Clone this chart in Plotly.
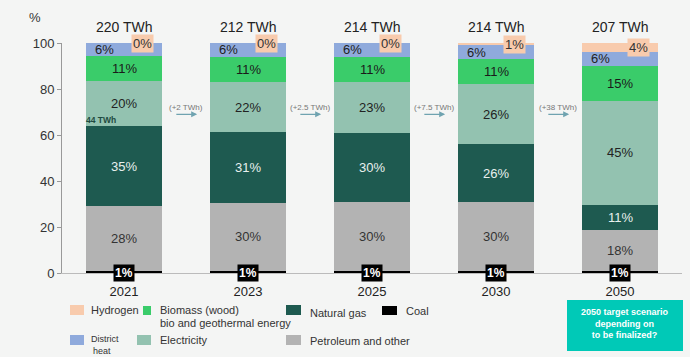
import plotly.graph_objects as go

years = ["2021", "2023", "2025", "2030", "2050"]
totals = ["220 TWh", "212 TWh", "214 TWh", "214 TWh", "207 TWh"]

coal = [1.0, 1.0, 1.0, 1.0, 1.0]
petroleum = [28.1, 29.6, 29.7, 29.7, 17.7]
natural_gas = [34.7, 30.7, 30.0, 25.3, 10.9]
electricity = [19.7, 21.7, 22.5, 26.0, 45.3]
biomass = [10.8, 11.0, 10.8, 11.0, 15.0]
district_heat = [5.7, 6.0, 6.0, 6.1, 6.3]
hydrogen = [0.0, 0.0, 0.0, 0.9, 3.8]

coal_lbl = ["1%"] * 5
petroleum_lbl = ["28%", "30%", "30%", "30%", "18%"]
gas_lbl = ["35%", "31%", "30%", "26%", "11%"]
elec_lbl = ["20%", "22%", "23%", "26%", "45%"]
bio_lbl = ["11%", "11%", "11%", "11%", "15%"]
dh_lbl = ["6%", "6%", "6%", "6%", "6%"]
h2_lbl = ["0%", "0%", "0%", "1%", "4%"]

steps = ["(+2 TWh)", "(+2.5 TWh)", "(+7.5 TWh)", "(+38 TWh)"]

C_H2 = "#F8CBAD"
C_BIO = "#3ACC6A"
C_GAS = "#1E5A50"
C_COAL = "#000000"
C_DH = "#8FAADC"
C_ELEC = "#93C2B0"
C_PET = "#B3B3B3"
BG = "#F4F5F4"
FONT = "Liberation Sans, Arial, sans-serif"
LFONT = "Liberation Sans, Arial, sans-serif"

series = [
    ("Coal", coal, C_COAL),
    ("Petroleum and other", petroleum, C_PET),
    ("Natural gas", natural_gas, C_GAS),
    ("Electricity", electricity, C_ELEC),
    ("Biomass", biomass, C_BIO),
    ("District heat", district_heat, C_DH),
    ("Hydrogen", hydrogen, C_H2),
]

x = list(range(len(years)))
fig = go.Figure()
for name, vals, col in series:
    fig.add_trace(go.Bar(x=x, y=vals, name=name, marker=dict(color=col, line=dict(width=0)),
                         width=0.62, showlegend=False, hoverinfo="skip"))

ann = []
cum = [[0.0] * 5]
for _, vals, _ in series:
    cum.append([c + v for c, v in zip(cum[-1], vals)])

def mid(k, i):
    return (cum[k][i] + cum[k + 1][i]) / 2

for i in x:
    ann.append(dict(x=i, y=mid(1, i), text=petroleum_lbl[i], showarrow=False,
                    font=dict(size=13, color="#333333", family=FONT)))
    ann.append(dict(x=i, y=mid(2, i), text=gas_lbl[i], showarrow=False,
                    font=dict(size=13, color="#E8F0EE", family=FONT)))
    ann.append(dict(x=i, y=mid(3, i), text=elec_lbl[i], showarrow=False,
                    font=dict(size=13, color="#222222", family=FONT)))
    ann.append(dict(x=i, y=mid(4, i), text=bio_lbl[i], showarrow=False,
                    font=dict(size=13, color="#1a1a1a", family=FONT)))
    ann.append(dict(x=i - 0.16, y=mid(5, i), text=dh_lbl[i], showarrow=False,
                    font=dict(size=13, color="#222222", family=FONT)))
    ann.append(dict(x=i + 0.15, y=min(mid(6, i), 99.6), text=h2_lbl[i], showarrow=False,
                    bgcolor=C_H2, borderpad=1,
                    font=dict(size=13, color="#333333", family=FONT)))
    ann.append(dict(x=i, y=0, text="<b>1%</b>", showarrow=False, bgcolor="#000000",
                    borderpad=1, font=dict(size=12, color="#FFFFFF", family=FONT)))
    ann.append(dict(x=i, y=100, yshift=16, text=totals[i], showarrow=False,
                    font=dict(size=14, color="#222222", family=FONT)))

ann.append(dict(x=-0.185, y=cum[3][0] + 2.6, text="<b>44 TWh</b>", showarrow=False,
                font=dict(size=8.5, color="#1E4A40", family=FONT)))

for j, s in enumerate(steps):
    xm = j + 0.5
    ann.append(dict(x=xm, y=72, text=s, showarrow=False,
                    font=dict(size=8, color="#777777", family=FONT)))
    ann.append(dict(x=xm + 0.09, y=69, ax=xm - 0.09, ay=69, axref="x", ayref="y",
                    xref="x", yref="y", text="", showarrow=True, arrowhead=2,
                    arrowsize=1, arrowwidth=1.2, arrowcolor="#6FA3B0"))

def px(xp):
    return (xp - 62) / 620

def py(yp):
    return (273 - yp) / 230

ann.append(dict(xref="paper", yref="paper", x=px(35), y=py(18), xanchor="center",
                yanchor="middle", text="%", showarrow=False,
                font=dict(size=13, color="#333333", family=FONT)))

shapes = []
legend_items = [
    (70, 84, 305, 315, C_H2), (143, 151, 306, 315, C_BIO), (286, 301, 305, 315, C_GAS),
    (382, 397, 306, 315, C_COAL),
    (70, 84, 335, 345, C_DH), (137, 151, 335, 345, C_ELEC), (286, 301, 335, 345, C_PET),
]
for x0, x1, y0, y1, col in legend_items:
    shapes.append(dict(type="rect", xref="paper", yref="paper", x0=px(x0), x1=px(x1),
                       y0=py(y1), y1=py(y0), fillcolor=col, line=dict(width=0)))

legend_texts = [
    (89, 310, "Hydrogen", 11),
    (158, 310, "Biomass (wood)", 11),
    (158, 323, "bio and geothermal energy", 11),
    (308, 313, "Natural gas", 11),
    (404, 311, "Coal", 11),
    (89, 339, "District", 9),
    (91, 351, "heat", 9),
    (158, 340, "Electricity", 11),
    (308, 341, "Petroleum and other", 11),
]
for tx, ty, t, fs in legend_texts:
    ann.append(dict(xref="paper", yref="paper", x=px(tx), y=py(ty), xanchor="left",
                    yanchor="middle", text=t, showarrow=False,
                    font=dict(size=fs, color="#333333", family=LFONT)))

shapes.append(dict(type="rect", xref="paper", yref="paper", x0=px(567), x1=px(683),
                   y0=py(351), y1=py(300), fillcolor="#00C9B7", line=dict(width=0)))
ann.append(dict(xref="paper", yref="paper", x=px(625), y=py(323), xanchor="center",
                yanchor="middle",
                text="<b>2050 target scenario<br>depending on<br>to be finalized?</b>",
                showarrow=False, align="center",
                font=dict(size=9, color="#FFFFFF", family=LFONT)))

fig.update_layout(
    width=690, height=357,
    margin=dict(l=62, r=8, t=43, b=84, autoexpand=False),
    paper_bgcolor=BG, plot_bgcolor=BG,
    barmode="stack", bargap=0.38,
    annotations=ann, shapes=shapes,
    font=dict(family=FONT, color="#333333"),
    xaxis=dict(range=[-0.5, 4.5], tickvals=x, ticktext=years, showgrid=False,
               showline=True, linecolor="#BBBBBB", linewidth=1, ticks="outside",
               ticklen=6, tickcolor="rgba(0,0,0,0)",
               tickfont=dict(size=13, color="#222222", family=FONT), zeroline=False,
               automargin=False),
    yaxis=dict(range=[0, 100], tickvals=[0, 20, 40, 60, 80, 100], showgrid=False,
               showline=True, linecolor="#999999", linewidth=1, ticks="outside",
               ticklen=4, tickcolor="#999999", zeroline=False, automargin=False,
               tickfont=dict(size=13, color="#333333", family=FONT)),
)

fig.write_html("out.html", config={"displayModeBar": False},
               post_script="document.body.style.margin='0';document.body.style.padding='0';"
                           "document.body.style.background='" + BG + "';")
